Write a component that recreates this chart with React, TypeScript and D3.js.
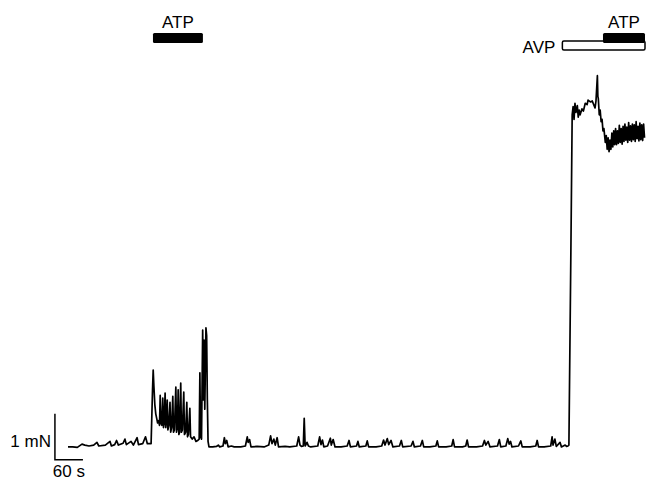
import React, { useEffect, useRef } from "react";
import * as d3 from "d3";

// force trace, [time (s), force (mN)]
const baselineStart: [number, number][] = [
  [0, -0.02], [10, -0.02], [20, -0.03], [30, 0.04], [36, 0.02], [45, 0], [55, 0.02], [62, 0.08],
  [66, 0], [80, 0.02], [90, 0.1], [93, 0], [100, 0.03], [104, 0.12], [108, 0.02], [118, 0.06],
  [122, 0.15], [125, 0.03], [135, 0.1], [140, 0.02], [148, 0.18], [151, 0.03], [160, 0.05],
  [166, 0.2], [170, 0.05], [178, 0.05],
];

const atpResponse: [number, number][] = [
  [181, 1.2], [182.5, 1.65], [184, 1.3], [186, 0.9], [188, 0.7], [190, 0.6], [192, 0.5],
  [194, 0.55], [196, 0.45], [197.5, 1.1], [199, 0.5], [201, 0.45], [203, 1.04], [204.5, 0.4],
  [206, 0.5], [208, 1.15], [209.5, 0.4], [211, 0.55], [212.5, 1.0], [214, 0.35], [216, 0.45],
  [218.5, 0.95], [220, 0.3], [222, 0.4], [224.5, 1.08], [226, 0.3], [228, 0.35], [231, 1.28],
  [232.5, 0.3], [234.5, 0.4], [236, 1.22], [237.5, 0.25], [239, 0.3], [241.5, 1.37], [243, 0.3],
  [245, 0.35], [248, 1.17], [249.5, 0.25], [252, 0.3], [254.5, 0.95], [256, 0.2], [258, 0.25],
  [261, 0.82], [262.5, 0.2], [266, 0.15], [270, 0.2], [274, 0.1], [278, 0.12], [281, 0.15],
  [282.5, 1.59], [284, 0.2], [286, 0.15], [288.5, 2.52], [290, 1.0], [291.5, 2.3], [293, 0.8],
  [295.5, 2.57], [297, 2.4], [298.5, 1.0], [300, 0.1], [302, -0.02],
];

const quiescent: [number, number][] = [
  [310, -0.02], [318, -0.01], [322, 0.02], [325, -0.02], [332, 0], [335, 0.18], [337, 0.05],
  [340, 0.12], [343, -0.02], [350, 0], [356, -0.02], [370, -0.02], [380, 0], [384, 0.2],
  [386, 0.08], [389, 0.14], [392, -0.02], [405, -0.01], [420, -0.02], [430, 0.02], [434, 0.22],
  [437, 0.05], [441, 0.15], [444, 0.02], [448, 0.18], [451, -0.02], [465, -0.01], [475, -0.02],
  [490, 0], [494, 0.2], [497, 0.02], [500, -0.01], [504, 0], [506, 0.6], [508, 0], [512, 0.08],
  [515, 0], [520, -0.02], [535, 0], [539, 0.2], [542, 0.03], [545, 0.13], [548, -0.02], [556, 0],
  [562, 0.17], [564, 0.02], [568, 0.14], [572, -0.02], [585, -0.02], [598, 0], [602, 0.12],
  [605, -0.02], [618, 0], [621, 0.1], [624, -0.02], [638, 0], [641, 0.11], [644, -0.02],
  [660, -0.02], [672, 0], [676, 0.13], [679, 0.02], [684, 0.16], [687, 0.03], [692, 0.12],
  [696, -0.02], [710, 0], [714, 0.12], [717, -0.02], [735, 0], [739, 0.1], [742, -0.02],
  [755, 0], [759, 0.12], [762, -0.02], [775, -0.02], [788, 0], [791, 0.11], [794, -0.02],
  [810, -0.02], [822, 0], [825, 0.14], [828, -0.02], [845, -0.02], [852, 0], [855, 0.13],
  [858, -0.02], [875, -0.02], [888, 0], [892, 0.12], [895, 0.02], [900, 0.1], [904, -0.02],
  [920, 0], [924, 0.14], [927, -0.02], [938, 0], [942, 0.16], [945, 0.04], [948, 0.1],
  [951, -0.02], [965, 0], [970, 0.11], [973, -0.02], [990, -0.02], [1002, 0], [1005, 0.12],
  [1008, -0.02], [1020, -0.02], [1034, 0], [1037, 0.2], [1039, 0.02], [1043, 0.15],
  [1046, -0.01], [1054, 0.08], [1057, -0.02], [1065, 0.02], [1068, -0.01], [1071, 0],
];

const avpResponse: [number, number][] = [
  [1073, 0.02], [1077, 4.0], [1080, 7.2], [1082, 7.38], [1084, 7.1], [1086, 7.45], [1088, 7.25],
  [1091, 7.4], [1093, 7.15], [1095, 7.3], [1097, 7.2], [1101, 7.33], [1104, 7.28], [1108, 7.45],
  [1112, 7.42], [1114, 7.52], [1119, 7.48], [1123, 7.5], [1127, 7.4], [1129, 7.35], [1131, 7.5],
  [1134, 8.05], [1135, 7.6], [1136, 7.55], [1138, 7.2], [1140, 7.3], [1142, 7.05], [1144, 7.1],
  [1146, 6.85], [1148, 6.9], [1151, 6.6], [1153, 6.75], [1155, 6.45], [1157, 6.7], [1159, 6.4],
  [1161, 6.65], [1163, 6.45], [1165, 6.8], [1167, 6.5], [1169, 6.85], [1171, 6.55], [1173, 6.9],
  [1175, 6.55], [1177, 6.85], [1179, 6.58], [1181, 6.97], [1183, 6.6], [1185, 6.9], [1187, 6.56],
  [1189, 6.95], [1191, 6.62], [1193, 7.0], [1195, 6.65], [1197, 6.93], [1199, 6.6], [1201, 7.03],
  [1203, 6.65], [1205, 6.96], [1207, 6.62], [1209, 7.0], [1211, 6.66], [1213, 6.98], [1215, 6.62],
  [1217, 7.05], [1219, 6.68], [1221, 6.95], [1223, 6.63], [1225, 7.02], [1227, 6.66], [1229, 6.98],
  [1231, 6.64], [1233, 7.0], [1235, 6.7],
];

// drug applications, seconds
const atpBars = [
  { label: "ATP", start: 182, end: 289 },
  { label: "ATP", start: 1146, end: 1236 },
];
const avpBar = { label: "AVP", start: 1059, end: 1236 };

// scale bar: 60 s, 1 mN
const scaleTime = 60;
const scaleForce = 1;

function App() {
  const ref = useRef<SVGSVGElement>(null);

  useEffect(() => {
    const svg = d3.select(ref.current);
    svg.selectAll("*").remove();

    const x = d3.scaleLinear().domain([0, 1236]).range([68, 645]);
    const y = d3.scaleLinear().domain([0, 8]).range([446, 78]);
    const font = "'Liberation Sans', Arial, sans-serif";

    const trace = [...baselineStart, ...atpResponse, ...quiescent, ...avpResponse];
    const line = d3.line<[number, number]>().x(d => x(d[0])).y(d => y(d[1]));

    svg.append("path")
      .attr("d", line(trace))
      .attr("fill", "none")
      .attr("stroke", "#000")
      .attr("stroke-width", 1.7)
      .attr("stroke-linejoin", "round");

    // AVP open bar (under the ATP one)
    svg.append("rect")
      .attr("x", x(avpBar.start))
      .attr("y", 41)
      .attr("width", x(avpBar.end) - x(avpBar.start))
      .attr("height", 9)
      .attr("rx", 1.5)
      .attr("fill", "#fff")
      .attr("stroke", "#000")
      .attr("stroke-width", 1.5);
    svg.append("text")
      .attr("x", x(avpBar.start) - 7)
      .attr("y", 53)
      .attr("text-anchor", "end")
      .attr("font-family", font)
      .attr("font-size", 17)
      .text(avpBar.label);

    atpBars.forEach(b => {
      svg.append("rect")
        .attr("x", x(b.start))
        .attr("y", 33)
        .attr("width", x(b.end) - x(b.start))
        .attr("height", 10)
        .attr("rx", 1.5)
        .attr("fill", "#000");
      svg.append("text")
        .attr("x", (x(b.start) + x(b.end)) / 2)
        .attr("y", 28)
        .attr("text-anchor", "middle")
        .attr("font-family", font)
        .attr("font-size", 17)
        .text(b.label);
    });

    // scale bar
    const sx0 = x(-28), sx1 = x(-28 + scaleTime);
    const sy0 = y(-0.3), sy1 = y(-0.3 + scaleForce);
    svg.append("path")
      .attr("d", `M${sx0},${sy1}V${sy0}H${sx1}`)
      .attr("fill", "none")
      .attr("stroke", "#000")
      .attr("stroke-width", 1.5);
    svg.append("text")
      .attr("x", sx0 - 4)
      .attr("y", 447)
      .attr("text-anchor", "end")
      .attr("font-family", font)
      .attr("font-size", 17)
      .text(`${scaleForce} mN`);
    svg.append("text")
      .attr("x", (sx0 + sx1) / 2)
      .attr("y", 477)
      .attr("text-anchor", "middle")
      .attr("font-family", font)
      .attr("font-size", 17)
      .text(`${scaleTime} s`);
  }, []);

  return (
    <svg ref={ref} width={647} height={482}
      style={{ position: "absolute", left: 0, top: 0, background: "#fff" }}></svg>
  );
}

export default App;
